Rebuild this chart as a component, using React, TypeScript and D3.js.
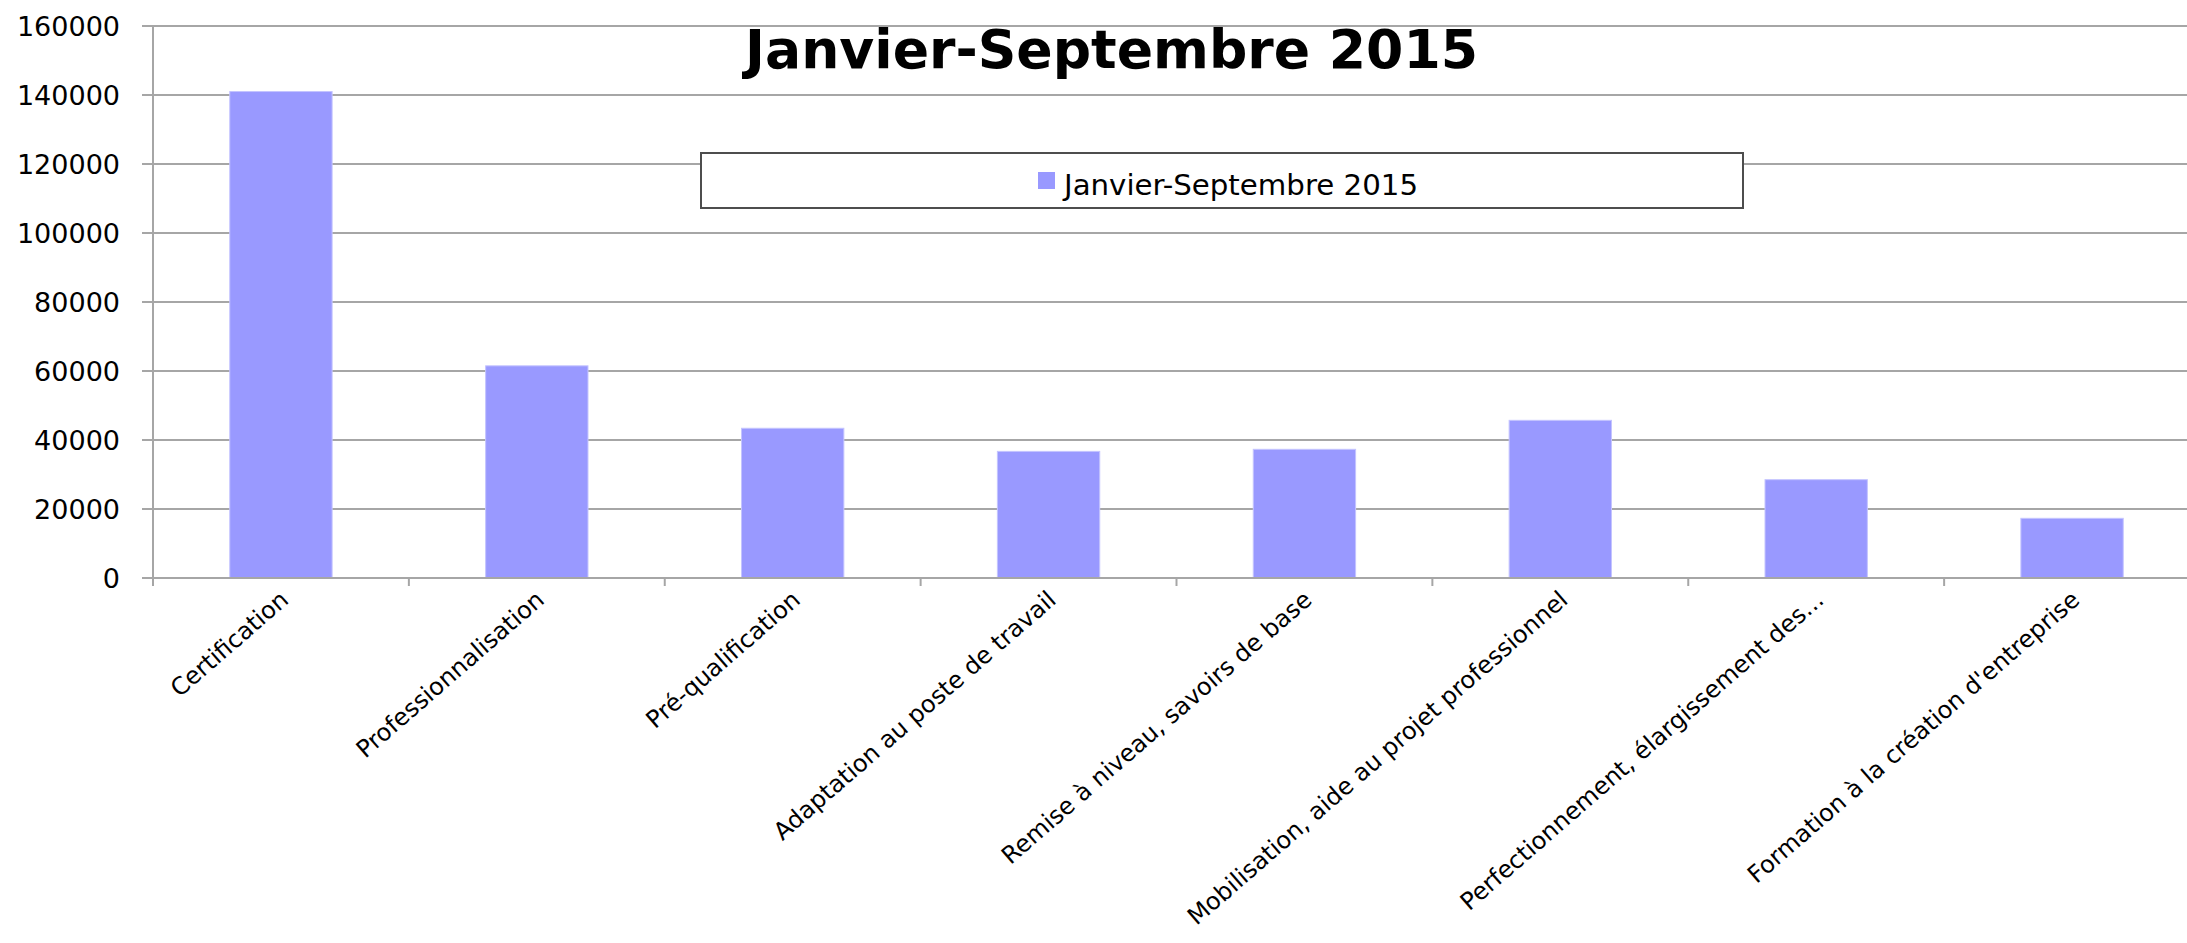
import React from "react";
import * as d3 from "d3";

const categories: string[] = [
  "Certification",
  "Professionnalisation",
  "Pré-qualification",
  "Adaptation au poste de travail",
  "Remise à niveau, savoirs de base",
  "Mobilisation, aide au projet professionnel",
  "Perfectionnement, élargissement des...",
  "Formation à la création d'entreprise",
];

const values: number[] = [141000, 61500, 43400, 36700, 37300, 45700, 28500, 17300];

const yTicks: number[] = [0, 20000, 40000, 60000, 80000, 100000, 120000, 140000, 160000];

const seriesName = "Janvier-Septembre 2015";
const titleText = "Janvier-Septembre 2015";

const W = 2187;
const H = 943;
const plotLeft = 153;
const plotRight = 2200;
const plotTop = 26;
const plotBottom = 578;

const FONT = "'DejaVu Sans', Verdana, sans-serif";
const GRID = "#a6a6a6";
const BAR = "#9999ff";

export default function App() {
  const xCat = d3.scaleBand<string>().domain(categories).range([plotLeft, plotRight]).padding(0);
  const xBar = d3
    .scaleBand<string>()
    .domain(categories)
    .range([plotLeft, plotRight])
    .paddingInner(0.6)
    .paddingOuter(0.3);
  const y = d3.scaleLinear().domain([0, 160000]).range([plotBottom, plotTop]);

  const step = xCat.step();
  const tickXs = categories.map((c) => xCat(c) as number);

  return (
    <svg
      width={W}
      height={H}
      style={{ position: "absolute", left: 0, top: 0, background: "#fff" }}
      fontFamily={FONT}
    >
      <rect x={0} y={0} width={W} height={H} fill="#fff" />
      {/* gridlines */}
      {yTicks.map((t) => (
        <line
          key={"g" + t}
          x1={plotLeft - 11}
          x2={plotRight}
          y1={y(t)}
          y2={y(t)}
          stroke={GRID}
          strokeWidth={2}
        />
      ))}
      {/* y tick labels */}
      {yTicks.map((t) => (
        <text
          key={"t" + t}
          x={120}
          y={y(t) + 9.8}
          textAnchor="end"
          fontSize={27}
          fill="#000"
        >
          {t}
        </text>
      ))}
      {/* bars */}
      {categories.map((c, i) => (
        <rect
          key={"b" + c}
          x={xBar(c) as number}
          y={y(values[i])}
          width={xBar.bandwidth()}
          height={y(0) - y(values[i])}
          fill={BAR}
          stroke="#c4c4ff"
          strokeWidth={1}
        />
      ))}
      {/* y axis line */}
      <line x1={plotLeft} x2={plotLeft} y1={plotTop} y2={plotBottom + 8} stroke={GRID} strokeWidth={2} />
      {/* x axis line */}
      <line x1={plotLeft - 11} x2={plotRight} y1={plotBottom} y2={plotBottom} stroke={GRID} strokeWidth={2} />
      {/* x ticks */}
      {tickXs.map((tx, i) => (
        <line key={"xt" + i} x1={tx} x2={tx} y1={plotBottom} y2={plotBottom + 8} stroke={GRID} strokeWidth={2} />
      ))}
      {/* category labels */}
      {categories.map((c) => {
        const cx = (xCat(c) as number) + step / 2 + 9;
        const cy = 602;
        return (
          <text
            key={"l" + c}
            transform={`translate(${cx},${cy}) rotate(-41)`}
            textAnchor="end"
            fontSize={24}
            fill="#000"
          >
            {c}
          </text>
        );
      })}
      {/* title */}
      <text x={745} y={68} fontSize={53} fontWeight="bold" fill="#000" textLength={733} lengthAdjust="spacingAndGlyphs">
        {titleText}
      </text>
      {/* legend */}
      <rect x={701} y={153} width={1042} height={55} fill="#fff" stroke="#4d4d4d" strokeWidth={2} />
      <rect x={1038} y={172} width={17} height={17} fill={BAR} />
      <text x={1064} y={195} fontSize={29} fill="#000" textLength={354} lengthAdjust="spacingAndGlyphs">
        {seriesName}
      </text>
    </svg>
  );
}
